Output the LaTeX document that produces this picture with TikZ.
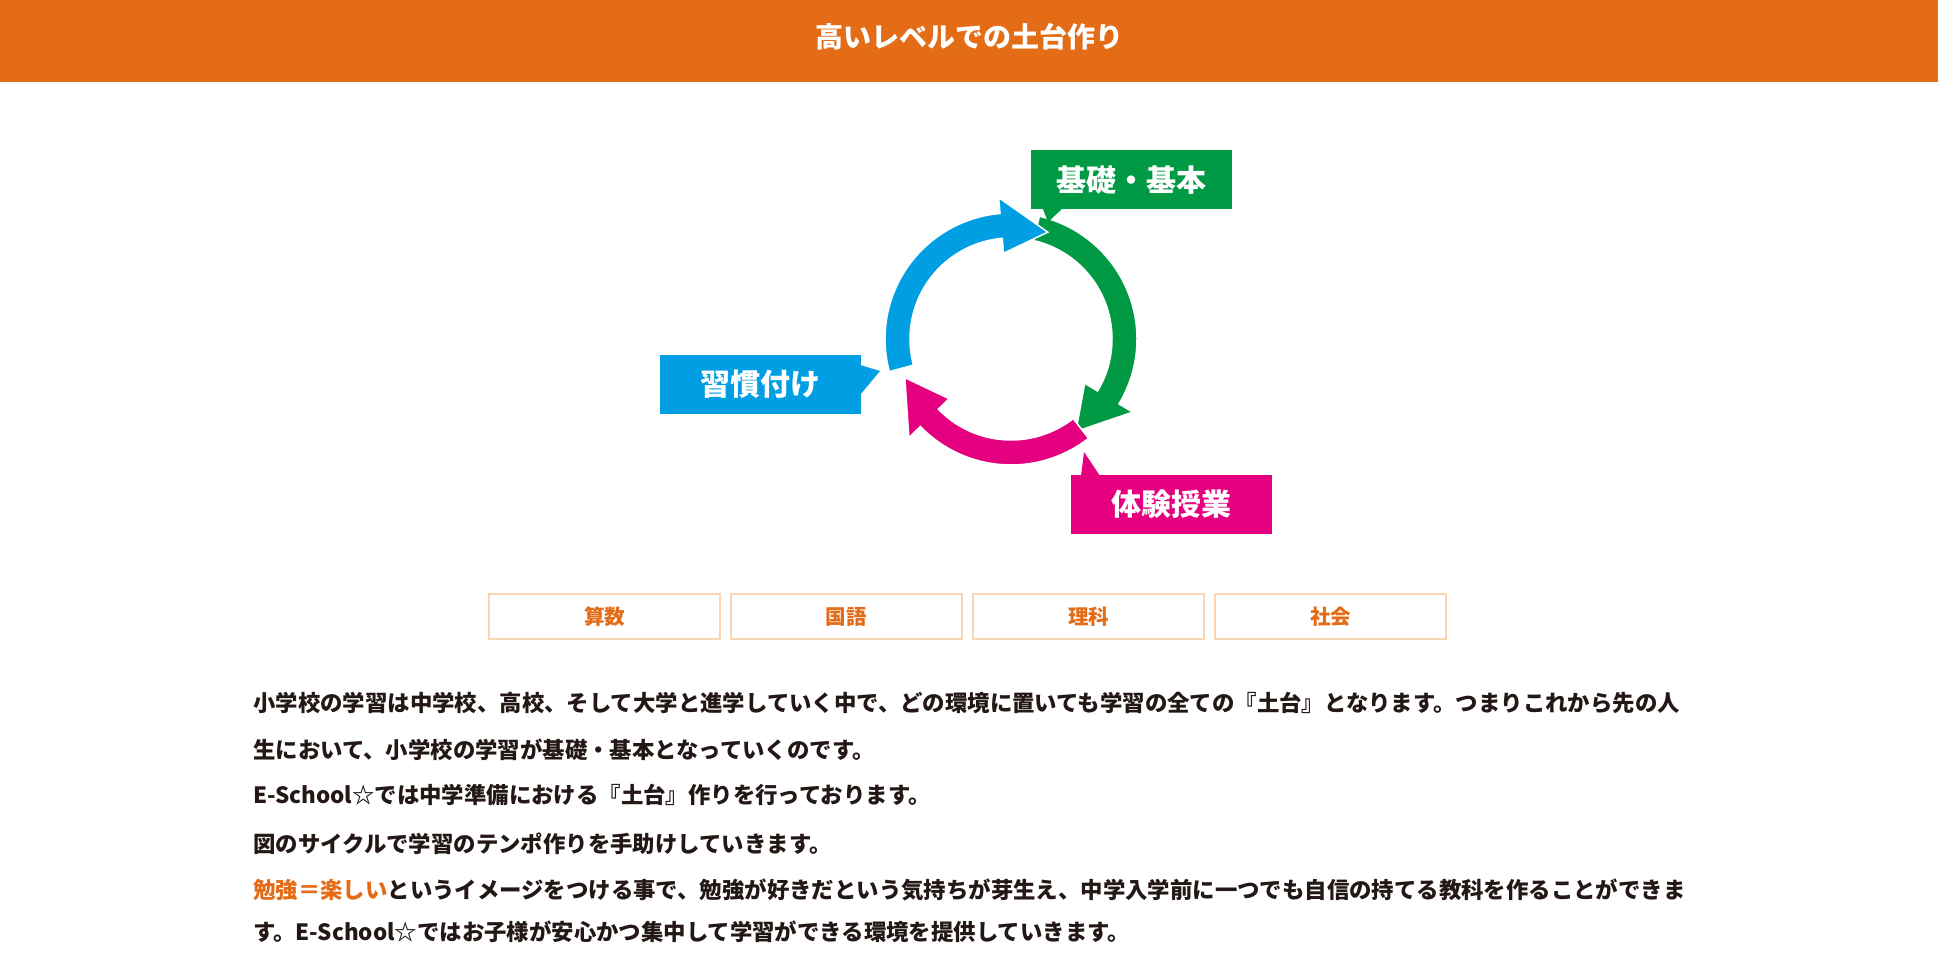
\documentclass[tikz,border=0pt]{standalone}
\usepackage{fontspec}
\setmainfont{Noto Sans CJK JP}
\definecolor{org}{HTML}{E46C17}
\definecolor{grn}{HTML}{009A44}
\definecolor{blu}{HTML}{009FE3}
\definecolor{mag}{HTML}{E4007F}
\definecolor{bord}{HTML}{FAD7B4}
\definecolor{txt}{HTML}{231815}
\begin{document}
\begin{tikzpicture}[x=1pt,y=1pt,
  lbl/.style={fill=#1,text=white,font=\fontsize{30}{32}\selectfont\bfseries,minimum width=201pt,minimum height=59pt,inner sep=0pt},
  subj/.style={draw=bord,line width=2pt,text=org,font=\fontsize{20.5}{22}\selectfont\bfseries,minimum width=231pt,minimum height=45pt,inner sep=0pt},
  para/.style={anchor=west,inner sep=0pt,text=txt,font=\fontsize{22.4}{25}\selectfont\bfseries}]
\useasboundingbox (0,0) rectangle (1938,979);
\fill[white] (0,0) rectangle (1938,979);
\fill[org] (0,897) rectangle (1938,979);
\node[text=white,font=\fontsize{28}{30}\selectfont\bfseries] (title) at (969,942) {高いレベルでの土台作り};
% ring arrows
\newcommand{\ringarrow}[3]{%
  \pgfmathsetmacro{\hb}{#3+24}%
  \fill[#1,draw=white,line width=1.5pt] (#2:126) arc[start angle=#2,end angle=\hb,radius=126]
    -- (\hb:142) -- (#3:113) -- (\hb:86) -- (\hb:101)
    arc[start angle=\hb,end angle=#2,radius=101] -- cycle;}
\begin{scope}[shift={(1011,640)}]
\coordinate (C) at (0,0);
\ringarrow{grn}{77}{-55}
\ringarrow{mag}{-52}{-160}
\ringarrow{blu}{195}{71}
\end{scope}
% callouts
\node[lbl=grn] (g) at (1131.5,799) {基礎・基本};
\fill[grn] (1043,770) -- (1062,770) -- (1048,757) -- cycle;
\node[lbl=blu] (b) at (760.5,594.5) {習慣付け};
\fill[blu] (860,614) -- (860,584) -- (880,608) -- cycle;
\node[lbl=mag] (m) at (1171,474.5) {体験授業};
\fill[mag] (1081,503) -- (1100,503) -- (1084,527) -- cycle;
% subjects
\node[subj] (s1) at (604.5,362) {算数};
\node[subj] (s2) at (846,362) {国語};
\node[subj] (s3) at (1088.5,362) {理科};
\node[subj] (s4) at (1330.5,362) {社会};
% paragraph
\node[para] (p1) at (253,276) {小学校の学習は中学校、高校、そして大学と進学していく中で、どの環境に置いても学習の全ての『土台』となります。つまりこれから先の人};
\node[para] (p2) at (253,229) {生において、小学校の学習が基礎・基本となっていくのです。};
\node[para] (p3) at (253,184) {E-School☆では中学準備における『土台』作りを行っております。};
\node[para] (p4) at (253,135) {図のサイクルで学習のテンポ作りを手助けしていきます。};
\node[para] (p5) at (253,89) {\textcolor{org}{勉強＝楽しい}というイメージをつける事で、勉強が好きだという気持ちが芽生え、中学入学前に一つでも自信の持てる教科を作ることができま};
\node[para] (p6) at (253,47) {す。E-School☆ではお子様が安心かつ集中して学習ができる環境を提供していきます。};
\end{tikzpicture}
\end{document}
